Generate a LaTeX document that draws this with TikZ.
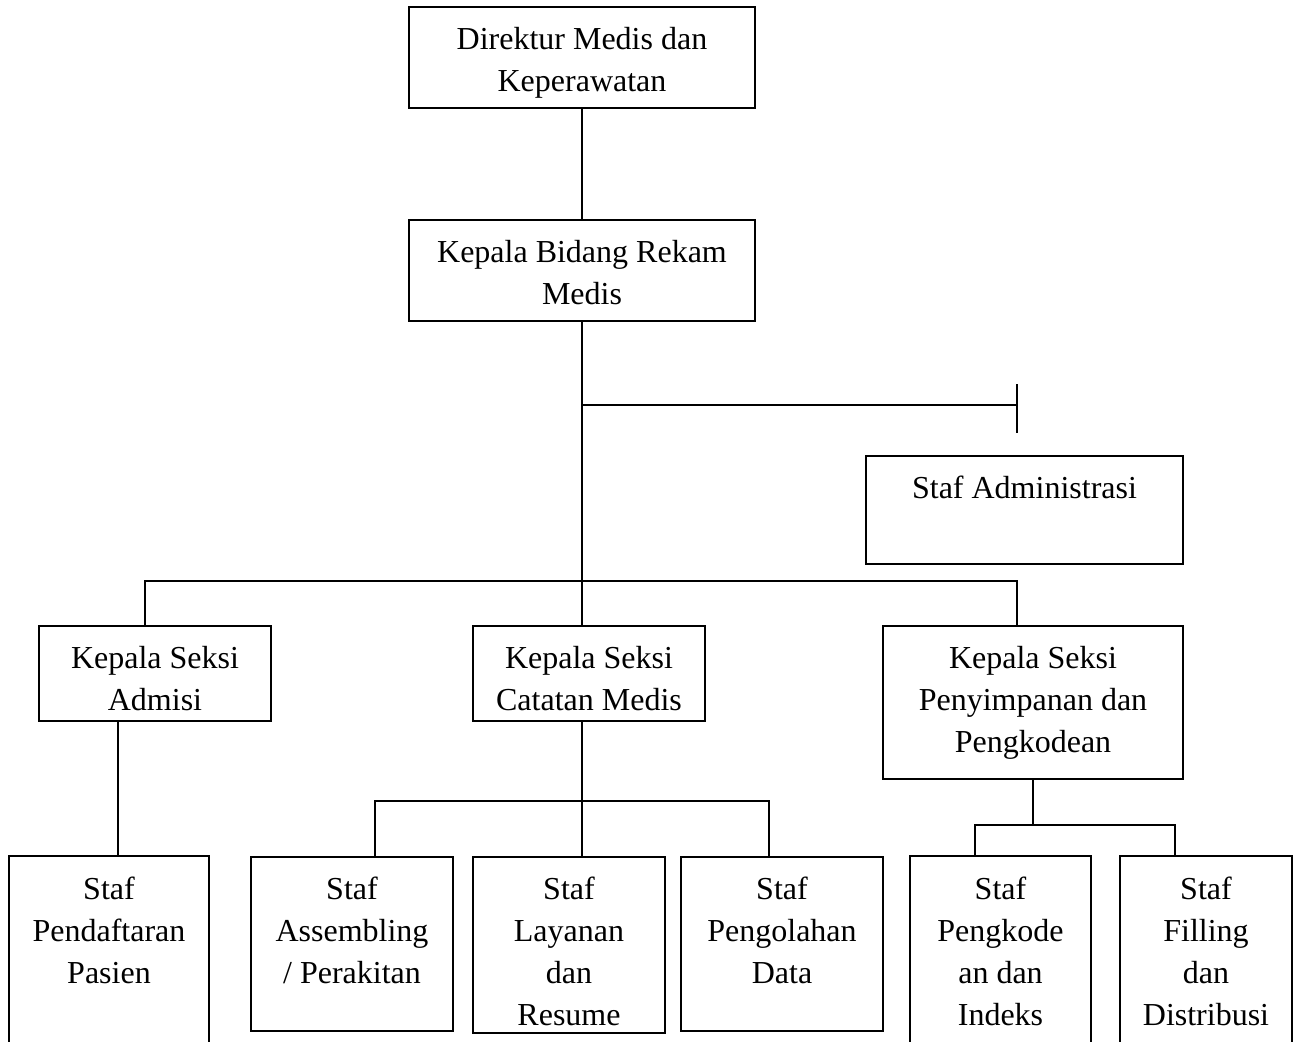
\documentclass[tikz,border=0pt]{standalone}
\usepackage{fontspec}
\setmainfont{Liberation Serif}
\usepackage{tikz}

\newcommand{\unittext}[3]{\parbox[c][#2][t]{#1}{\centering\rule{0pt}{21pt}#3}}

\begin{document}
\begin{tikzpicture}[x=0.5pt,y=-0.5pt,line width=1pt,
  every node/.style={font=\fontsize{16}{21}\selectfont},
  unit/.style={draw,rectangle,inner sep=0pt},
  unitopen/.style={rectangle,inner sep=0pt}]
\useasboundingbox (0,0) rectangle (1300,1041);
\clip (0,0) rectangle (1300,1041);
\node[unit] (dir) at (582,57.5) {\unittext{173pt}{50.5pt}{Direktur Medis dan\\Keperawatan}};
\node[unit] (kabid) at (582,270.5) {\unittext{173pt}{50.5pt}{Kepala Bidang Rekam\\Medis}};
\node[unit] (stafadm) at (1024.5,510) {\unittext{158.5pt}{54pt}{Staf Administrasi}};
\node[unit] (ksadm) at (155,673.5) {\unittext{116pt}{47.5pt}{Kepala Seksi\\Admisi}};
\node[unit] (kscm) at (589,673.5) {\unittext{116pt}{47.5pt}{Kepala Seksi\\Catatan Medis}};
\node[unit] (ksps) at (1033,702.5) {\unittext{150pt}{76.5pt}{Kepala Seksi\\Penyimpanan dan\\Pengkodean}};
\node[unitopen] (sp) at (109,944) {\unittext{99pt}{87pt}{Staf\\Pendaftaran\\Pasien}};
\node[unit] (sa) at (352,944) {\unittext{101pt}{87pt}{Staf\\Assembling\\/ Perakitan}};
\node[unit] (sl) at (569,945) {\unittext{96pt}{88pt}{Staf\\Layanan\\dan\\Resume}};
\node[unit] (sd) at (782,944) {\unittext{101pt}{87pt}{Staf\\Pengolahan\\Data}};
\node[unitopen] (sk) at (1000.5,944) {\unittext{89.5pt}{87pt}{Staf\\Pengkode\\an dan\\Indeks}};
\node[unitopen] (sf) at (1206,944) {\unittext{85pt}{87pt}{Staf\\Filling\\dan\\Distribusi}};
\draw ([yshift=-20pt]sp.south west) -- (sp.north west) -- (sp.north east) -- ([yshift=-20pt]sp.south east);
\draw ([yshift=-20pt]sk.south west) -- (sk.north west) -- (sk.north east) -- ([yshift=-20pt]sk.south east);
\draw ([yshift=-20pt]sf.south west) -- (sf.north west) -- (sf.north east) -- ([yshift=-20pt]sf.south east);
\coordinate (tick) at (1017,405);
\coordinate (cmbus) at (582,801);
\coordinate (psbus) at (1033,825);
\draw (dir.south) -- (kabid.north);
\draw (kabid.south) -- (kabid.south |- kscm.north);
\draw (kabid.south |- tick) -- (tick);
\draw (tick) ++(0,-21) -- ++(0,49);
\draw ([xshift=-5pt]ksadm.north) -- ++(0,-44) -| ([xshift=-8pt]ksps.north);
\draw ([xshift=-18.5pt]ksadm.south) -- ([xshift=-18.5pt]ksadm.south |- sp.north);
\draw ([xshift=-3.5pt]kscm.south) -- ([xshift=-3.5pt]kscm.south |- sl.north);
\draw ([xshift=11.5pt]sa.north) |- (cmbus) -| ([xshift=-6.5pt]sd.north);
\draw (ksps.south) -- (psbus);
\draw ([xshift=-12.75pt]sk.north) |- (psbus) -| ([xshift=-15.5pt]sf.north);
\end{tikzpicture}
\end{document}
